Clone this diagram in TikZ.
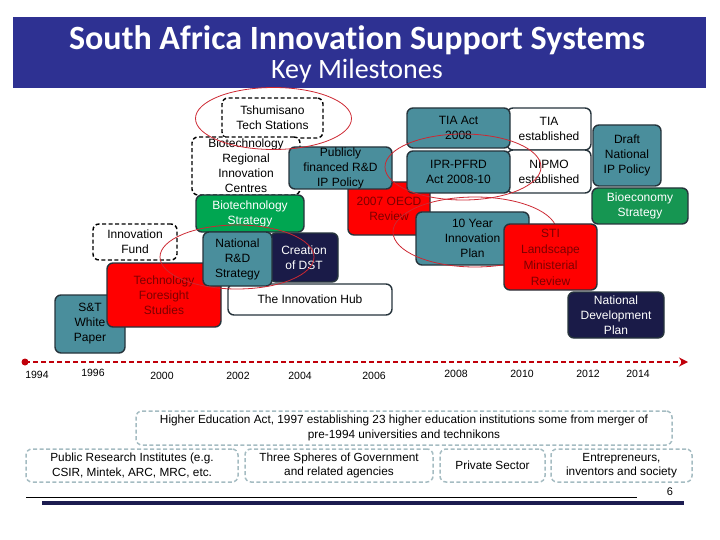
\documentclass[tikz,border=0pt]{standalone}
\usepackage{fontspec}
\setmainfont{Liberation Sans}
\newfontfamily\titlefont[Ligatures=NoCommon]{Carlito}
\usetikzlibrary{arrows.meta}
\definecolor{bannerblue}{RGB}{46,49,146}
\definecolor{tealc}{RGB}{74,142,156}
\definecolor{redc}{RGB}{255,0,0}
\definecolor{redtxt}{RGB}{125,0,0}
\definecolor{greenc}{RGB}{0,166,81}
\definecolor{greenb}{RGB}{22,150,82}
\definecolor{navyc}{RGB}{26,27,72}
\definecolor{edgec}{RGB}{38,52,60}
\definecolor{notec}{RGB}{165,188,194}
\definecolor{ringc}{RGB}{205,40,50}
\definecolor{linec}{RGB}{192,0,10}
\definecolor{barc}{RGB}{28,28,80}
\begin{document}
\begin{tikzpicture}[x=1pt,y=-1pt,
  box/.style={draw=edgec,line width=1.4pt,rounded corners=6pt,align=center,inner sep=0pt,font=\fontsize{12}{15}\selectfont},
  tealbox/.style={box,fill=tealc},
  redbox/.style={box,fill=redc,text=redtxt},
  greenbox/.style={box,fill=greenc,text=white},
  navybox/.style={box,fill=navyc,text=white},
  whitebox/.style={box,fill=white},
  dashbox/.style={box,draw=black,fill=white,dash pattern=on 4pt off 2.5pt},
  note/.style={draw=notec,line width=1.5pt,dash pattern=on 4pt off 2.5pt,rounded corners=6pt,align=center,inner sep=0pt,font=\fontsize{11.8}{14.5}\selectfont},
  ring/.style={draw=ringc,line width=0.8pt},
  yearlbl/.style={font=\fontsize{10.5}{12}\selectfont,inner sep=0pt},
  timeline/.style={draw=linec,line width=2.5pt,dash pattern=on 5pt off 3pt,-{Stealth[length=9pt,width=9pt,fill=linec]}}
]
\useasboundingbox (0,0) rectangle (720,540);
\fill[bannerblue] (13,17) rectangle (706,88);
\node[text=white,font=\titlefont\bfseries\fontsize{34}{35}\selectfont] (title) at (357,40) {South Africa Innovation Support Systems};
\node[text=white,font=\titlefont\fontsize{28}{29}\selectfont] (sub) at (357,71) {Key Milestones};

\node[dashbox,minimum width=101pt,minimum height=40pt] (tshum) at (272.5,118) {Tshumisano\\Tech Stations};
\node[dashbox,minimum width=108pt,minimum height=58pt] (biocentres) at (246,166) {Biotechnology\\Regional\\Innovation\\Centres};
\node[redbox,minimum width=82pt,minimum height=53pt] (oecd) at (389,208.5) {2007 OECD\\Review};
\node[tealbox,minimum width=103pt,minimum height=42pt] (publicly) at (340.5,168) {Publicly\\financed R\&D\\IP Policy};
\node[greenbox,minimum width=108pt,minimum height=37pt] (biostrat) at (250,213.5) {Biotechnology\\Strategy};

\node[whitebox,minimum width=84pt,minimum height=42pt] (tiaest) at (549,129) {TIA\\established};
\node[whitebox,minimum width=84pt,minimum height=43pt] (nipmo) at (549,171.5) {NIPMO\\established};
\node[tealbox,minimum width=103pt,minimum height=40pt] (tiaact) at (458.5,128) {TIA Act\\2008};
\node[tealbox,minimum width=103pt,minimum height=42pt] (ipr) at (458.5,172) {IPR-PFRD\\Act 2008-10};

\node[tealbox,minimum width=113pt,minimum height=53pt] (tenyear) at (472.5,238.5) {10 Year\\Innovation\\Plan};
\draw[ring] (475,232) ellipse [x radius=82pt,y radius=35pt];
\node[redbox,minimum width=93pt,minimum height=66pt,font=\fontsize{12}{16}\selectfont] (sti) at (550.5,257) {STI\\Landscape\\Ministerial\\Review};

\node[tealbox,minimum width=68pt,minimum height=61pt] (draftip) at (627,155.5) {Draft\\National\\IP Policy};
\node[greenbox,fill=greenb,minimum width=96pt,minimum height=36pt] (bioeco) at (640,206) {Bioeconomy\\Strategy};
\node[navybox,minimum width=96pt,minimum height=46pt] (ndp) at (616,315) {National\\Development\\Plan};

\node[dashbox,minimum width=84pt,minimum height=36pt] (innofund) at (135,242) {Innovation\\Fund};
\node[tealbox,minimum width=70pt,minimum height=58pt] (stwp) at (90,324) {S\&T\\White\\Paper};
\node[redbox,minimum width=114pt,minimum height=64pt] (techfore) at (164,295) {Technology\\Foresight\\Studies};
\node[whitebox,minimum width=164pt,minimum height=31pt] (hub) at (310,299.5) {The Innovation Hub};
\node[navybox,minimum width=68pt,minimum height=49pt] (dst) at (304,257.5) {Creation\\of DST};
\node[tealbox,minimum width=69pt,minimum height=54pt] (nrd) at (237.5,259) {National\\R\&D\\Strategy};

\draw[ring] (273.5,118.5) ellipse [x radius=78pt,y radius=31pt];
\draw[ring] (463,167) ellipse [x radius=78pt,y radius=33pt];
\draw[ring] (237,257) ellipse [x radius=77pt,y radius=32pt];

\coordinate (tstart) at (25,362);
\coordinate (tend) at (688,362);
\fill[linec] (tstart) circle (3.5pt);
\draw[timeline] (tstart) -- (tend);
\foreach \yr/\xx/\yy in {1994/37/375,1996/93/373,2000/162/376,2002/238/376,2004/300/376,2006/374/376,2008/456/374,2010/522/374,2012/588/374,2014/638/374}
  \node[yearlbl] (y\yr) at (\xx,\yy) {\yr};

\node[note,minimum width=536pt,minimum height=34pt] (hea) at (404,428) {Higher Education Act, 1997 establishing 23 higher education institutions some from merger of\\pre-1994 universities and technikons};
\node[note,minimum width=212pt,minimum height=33pt] (pri) at (132,465.5) {Public Research Institutes (e.g.\\CSIR, Mintek, ARC, MRC, etc.};
\node[note,minimum width=188pt,minimum height=33pt] (spheres) at (339,465.5) {Three Spheres of Government\\and related agencies};
\node[note,minimum width=105pt,minimum height=33pt] (private) at (492.5,465.5) {Private Sector};
\node[note,minimum width=141pt,minimum height=33pt] (entre) at (621.5,465.5) {Entrepreneurs,\\inventors and society};

\draw[black,line width=0.8pt] (26,497) -- (637,497);
\node[font=\fontsize{11}{12}\selectfont] (pagenum) at (670,492) {6};
\fill[barc] (42,501) rectangle (684,505);
\end{tikzpicture}
\end{document}
